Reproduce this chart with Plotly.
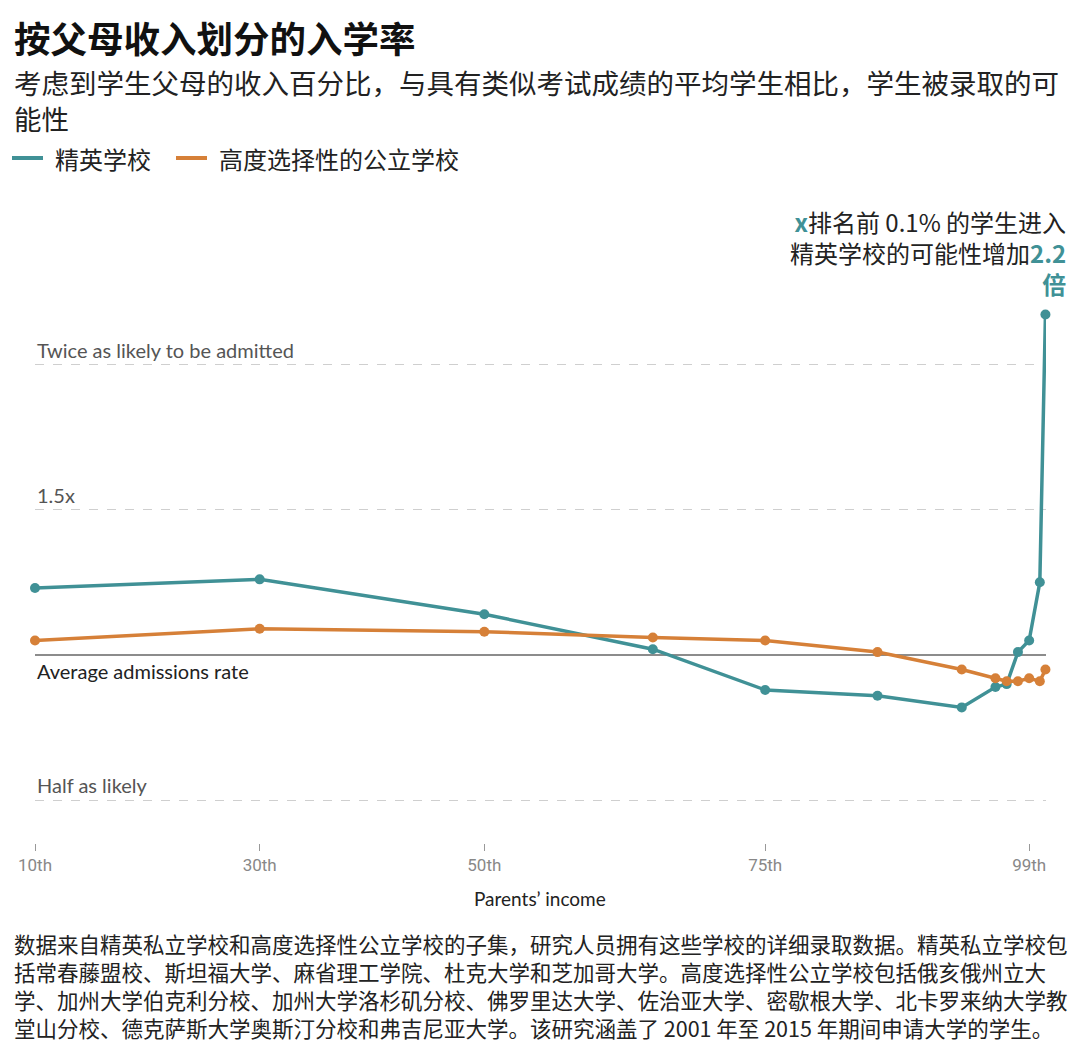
import plotly.graph_objects as go

# ---- data ----
income_pct = [10, 30, 50, 65, 75, 85, 92.5, 95.5, 96.5, 97.5, 98.5, 99.45, 99.95]
elite = [1.23, 1.26, 1.14, 1.02, 0.88, 0.86, 0.82, 0.89, 0.90, 1.01, 1.05, 1.25, 2.17]
public = [1.05, 1.09, 1.08, 1.06, 1.05, 1.01, 0.95, 0.92, 0.91, 0.91, 0.92, 0.91, 0.95]
series_names = ["精英学校", "高度选择性的公立学校"]
tick_vals = [10, 30, 50, 75, 98.5]
tick_text = ["10th", "30th", "50th", "75th", "99th"]
grid_vals = [0.5, 1.5, 2.0]

TEAL = "#409196"
ORANGE = "#D68038"
CJK = "Noto Sans CJK SC"
LAT = "Lato"

W, H = 1080, 1043
PL, PR, PT, PB = 35, 1046, 300, 843


def px(x):
    return (x - PL) / (PR - PL)


def py(y):
    return (PB - y) / (PB - PT)


fig = go.Figure()
fig.add_trace(go.Scatter(x=income_pct, y=elite, mode="lines+markers", name=series_names[0],
                         line=dict(color=TEAL, width=3.5), marker=dict(size=10, color=TEAL),
                         cliponaxis=False, showlegend=False))
fig.add_trace(go.Scatter(x=income_pct, y=public, mode="lines+markers", name=series_names[1],
                         line=dict(color=ORANGE, width=3.5), marker=dict(size=10, color=ORANGE),
                         cliponaxis=False, showlegend=False))

shapes = [
    dict(type="line", xref="x", yref="y", x0=10, x1=100, y0=1, y1=1,
         line=dict(color="#666", width=1.6), layer="below"),
    dict(type="line", xref="paper", yref="paper", x0=px(12), x1=px(43), y0=py(158), y1=py(158),
         line=dict(color=TEAL, width=4)),
    dict(type="line", xref="paper", yref="paper", x0=px(176), x1=px(207), y0=py(158), y1=py(158),
         line=dict(color=ORANGE, width=4)),
]

ann = []


def text(t, x, y, size, color="#222", family=CJK, xanchor="left", align="left"):
    ann.append(dict(text=t, x=px(x), y=py(y), xref="paper", yref="paper", xanchor=xanchor,
                    yanchor="middle", showarrow=False, align=align,
                    font=dict(size=size, color=color, family=family)))


text("<b>按父母收入划分的入学率</b>", 12, 38, 36.5, "#111")
text("考虑到学生父母的收入百分比，与具有类似考试成绩的平均学生相比，学生被录取的可<br>能性",
     12, 100, 27.5)
text(series_names[0], 53, 158, 24)
text(series_names[1], 217, 158, 24)
text(f'<span style="color:{TEAL}"><b>x</b></span>排名前 0.1% 的学生进入<br>'
     f'精英学校的可能性增加<span style="color:{TEAL}"><b>2.2</b></span><br>'
     f'<span style="color:{TEAL}"><b>倍</b></span>',
     1068, 252, 24, xanchor="right", align="right")
text("Twice as likely to be admitted", 35, 350, 20, "#555", LAT)
text("1.5x", 35, 495, 20, "#555", LAT)
text("Average admissions rate", 35, 671, 20, "#222", LAT)
text("Half as likely", 35, 785, 20, "#555", LAT)
text("Parents’ income", 540, 898, 19, "#222", LAT, xanchor="center", align="center")

foot = [
    "数据来自精英私立学校和高度选择性公立学校的子集，研究人员拥有这些学校的详细录取数据。精英私立学校包",
    "括常春藤盟校、斯坦福大学、麻省理工学院、杜克大学和芝加哥大学。高度选择性公立学校包括俄亥俄州立大",
    "学、加州大学伯克利分校、加州大学洛杉矶分校、佛罗里达大学、佐治亚大学、密歇根大学、北卡罗来纳大学教",
    "堂山分校、德克萨斯大学奥斯汀分校和弗吉尼亚大学。该研究涵盖了 2001 年至 2015 年期间申请大学的学生。",
]
text("<br>".join(foot), 12, 985, 21.5)

fig.update_layout(
    width=W, height=H,
    margin=dict(l=PL, r=W - PR, t=PT, b=H - PB, autoexpand=False),
    paper_bgcolor="white", plot_bgcolor="white",
    shapes=shapes, annotations=ann, showlegend=False,
    xaxis=dict(range=[10, 100], tickvals=tick_vals, ticktext=tick_text, showgrid=False,
               zeroline=False, showline=False, ticks="outside", ticklen=7, tickwidth=1,
               tickcolor="#999", tickfont=dict(size=17, color="#888", family="Roboto")),
    yaxis=dict(range=[1 - (PB - 655) / 291, 1 + (655 - PT) / 291],
               tickvals=grid_vals, showticklabels=False, showgrid=True, griddash="dash",
               gridcolor="#cfcfcf", gridwidth=1, zeroline=False, showline=False),
)

fig.write_html("out.html")
